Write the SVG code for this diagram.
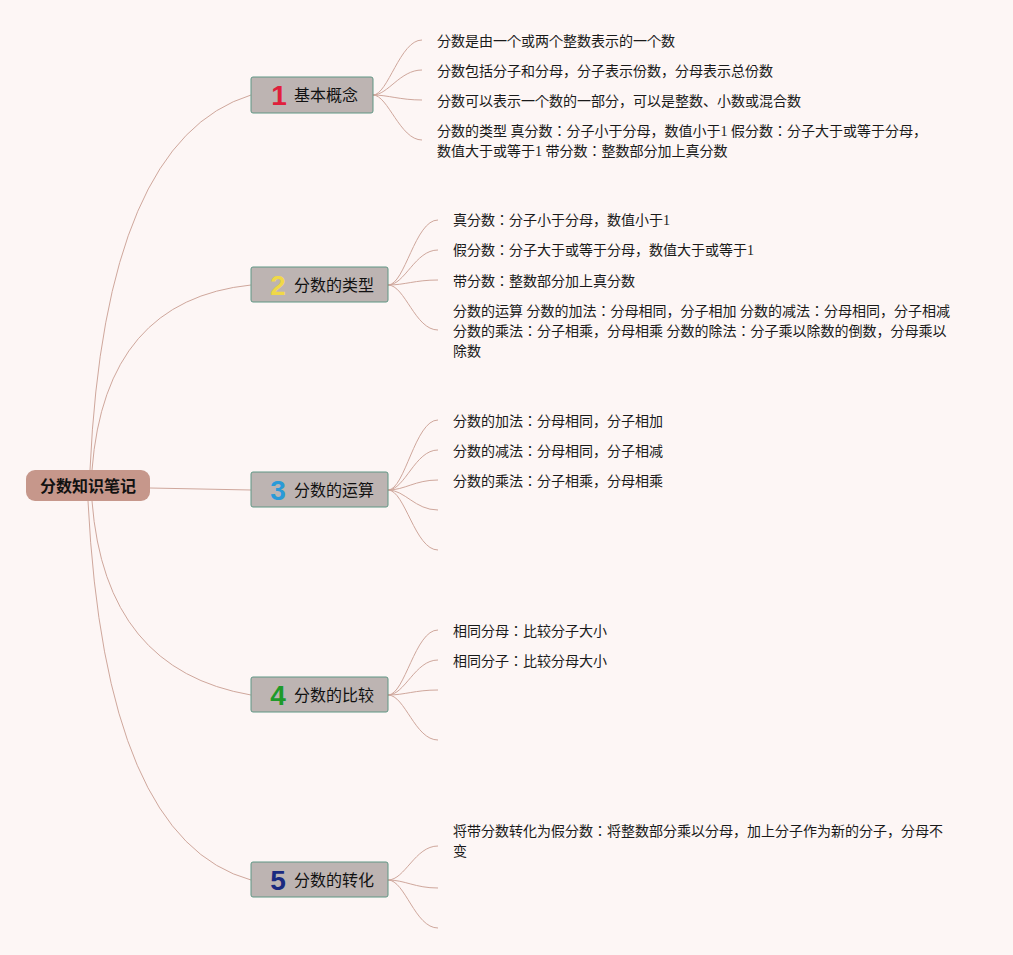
<svg xmlns="http://www.w3.org/2000/svg" width="1013" height="955" viewBox="0 0 1013 955">
<style>
.bg{fill:#fdf6f5}
.conn path{fill:none;stroke:#cfa79c;stroke-width:1}
.root rect{fill:#c6978b}
.root text{font-family:"Noto Sans CJK SC",sans-serif;font-size:16px;font-weight:bold;fill:#111;text-anchor:middle}
.br rect{fill:#bdb4b2;stroke:#5f9684;stroke-width:1}
.br .lbl{font-family:"Noto Sans CJK SC",sans-serif;font-size:16px;fill:#111}
.br .num{font-family:"Liberation Sans",sans-serif;font-size:28px;font-weight:bold;text-anchor:middle}
.leaf text{font-family:"Liberation Serif","Noto Sans CJK JP",sans-serif;font-size:14px;fill:#1a1a1a}
</style>
<rect class="bg" x="0" y="0" width="1013" height="955"/>
<g id="connectors" class="conn">
<path d="M90 470 Q105 140 251 95"/>
<path d="M92 470 Q105 300 251 285"/>
<path d="M150 488 L251 490"/>
<path d="M92 501 Q105 670 251 695"/>
<path d="M88 501 Q105 840 251 880"/>
<path d="M373 95 C388 95 400 40 422 40"/>
<path d="M373 95 C388 95 400 70 422 70"/>
<path d="M373 95 C388 95 400 100 422 100"/>
<path d="M373 95 C388 95 400 140 422 140"/>
<path d="M388 285 C405 285 415 220 438 220"/>
<path d="M388 285 C405 285 415 250 438 250"/>
<path d="M388 285 C405 285 415 280 438 280"/>
<path d="M388 285 C405 285 415 330 438 330"/>
<path d="M388 490 C405 490 415 420 438 420"/>
<path d="M388 490 C405 490 415 450 438 450"/>
<path d="M388 490 C405 490 415 480 438 480"/>
<path d="M388 490 C405 490 415 510 438 510"/>
<path d="M388 490 C405 490 415 550 438 550"/>
<path d="M388 695 C405 695 415 630 438 630"/>
<path d="M388 695 C405 695 415 660 438 660"/>
<path d="M388 695 C405 695 415 690 438 690"/>
<path d="M388 695 C405 695 415 740 438 740"/>
<path d="M388 880 C405 880 415 846 438 846"/>
<path d="M388 880 C405 880 415 888 438 888"/>
<path d="M388 880 C405 880 415 928 438 928"/>
</g>
<g id="root" class="root">
<rect x="26" y="470" width="124" height="31" rx="9"/>
<text x="88" y="492">分数知识笔记</text>
</g>
<g id="b1" class="br">
<rect x="251" y="77" width="122" height="36" rx="2"/>
<text class="num" x="279" y="105" fill="#e0203c">1</text>
<text class="lbl" x="294" y="101">基本概念</text>
</g>
<g id="b2" class="br">
<rect x="251" y="267" width="137" height="35" rx="2"/>
<text class="num" x="278" y="295" fill="#f0d848">2</text>
<text class="lbl" x="294" y="291">分数的类型</text>
</g>
<g id="b3" class="br">
<rect x="251" y="472" width="137" height="35" rx="2"/>
<text class="num" x="278" y="500" fill="#2a9ad8">3</text>
<text class="lbl" x="294" y="496">分数的运算</text>
</g>
<g id="b4" class="br">
<rect x="251" y="677" width="137" height="35" rx="2"/>
<text class="num" x="278" y="705" fill="#1e9a2a">4</text>
<text class="lbl" x="294" y="701">分数的比较</text>
</g>
<g id="b5" class="br">
<rect x="251" y="862" width="137" height="35" rx="2"/>
<text class="num" x="278" y="890" fill="#1a2a80">5</text>
<text class="lbl" x="294" y="886">分数的转化</text>
</g>
<g id="leaves1" class="leaf">
<text x="437" y="46">分数是由一个或两个整数表示的一个数</text>
<text x="437" y="76">分数包括分子和分母，分子表示份数，分母表示总份数</text>
<text x="437" y="106">分数可以表示一个数的一部分，可以是整数、小数或混合数</text>
<text x="437" y="136">分数的类型 真分数：分子小于分母，数值小于1 假分数：分子大于或等于分母，</text>
<text x="437" y="156">数值大于或等于1 带分数：整数部分加上真分数</text>
</g>
<g id="leaves2" class="leaf">
<text x="453" y="225">真分数：分子小于分母，数值小于1</text>
<text x="453" y="255">假分数：分子大于或等于分母，数值大于或等于1</text>
<text x="453" y="286">带分数：整数部分加上真分数</text>
<text x="453" y="316">分数的运算 分数的加法：分母相同，分子相加 分数的减法：分母相同，分子相减</text>
<text x="453" y="336">分数的乘法：分子相乘，分母相乘 分数的除法：分子乘以除数的倒数，分母乘以</text>
<text x="453" y="356">除数</text>
</g>
<g id="leaves3" class="leaf">
<text x="453" y="426">分数的加法：分母相同，分子相加</text>
<text x="453" y="456">分数的减法：分母相同，分子相减</text>
<text x="453" y="486">分数的乘法：分子相乘，分母相乘</text>
</g>
<g id="leaves4" class="leaf">
<text x="453" y="636">相同分母：比较分子大小</text>
<text x="453" y="666">相同分子：比较分母大小</text>
</g>
<g id="leaves5" class="leaf">
<text x="453" y="836">将带分数转化为假分数：将整数部分乘以分母，加上分子作为新的分子，分母不</text>
<text x="453" y="856">变</text>
</g>
</svg>
